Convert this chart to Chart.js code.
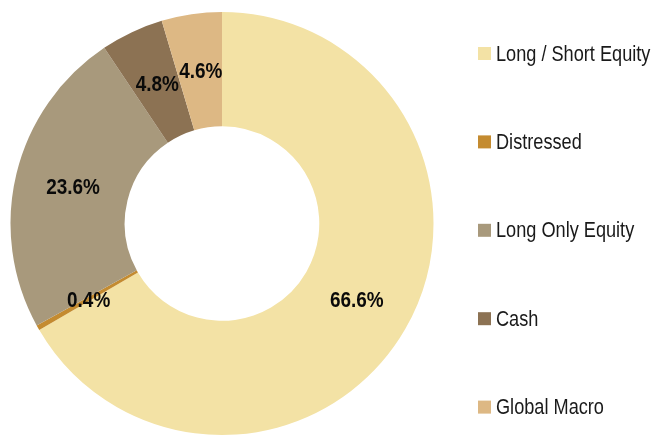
<!DOCTYPE html>
<html>
<head>
<meta charset="utf-8">
<script src="https://cdn.jsdelivr.net/npm/chart.js@4/dist/chart.umd.min.js"></script>
<style>
  html, body { margin: 0; padding: 0; background: #fff; }
  #wrap { width: 654px; height: 437px; }
</style>
</head>
<body>
<div id="wrap"><canvas id="myChart" width="654" height="437"></canvas></div>
<script>
const categories = ["Long / Short Equity", "Distressed", "Long Only Equity", "Cash", "Global Macro"];
const shares = [66.6, 0.4, 23.6, 4.8, 4.6];
const sliceLabels = ["66.6%", "0.4%", "23.6%", "4.8%", "4.6%"];
const colors = ["#F3E2A5", "#C48B30", "#A8997C", "#8C7253", "#DDB884"];

// no narrow font installed, so squeeze Liberation Sans sideways
const fam = "'Liberation Sans', Arial, sans-serif";

function narrowText(ctx, text, x, y, align, squeeze) {
    ctx.save();
    ctx.translate(x, y);
    ctx.scale(squeeze, 1);
    ctx.textAlign = align;
    ctx.fillText(text, 0, 0);
    ctx.restore();
}

// percentage text in the middle of each ring slice
const sliceText = {
    id: "sliceText",
    afterDatasetsDraw(chart) {
        const ctx = chart.ctx;
        const meta = chart.getDatasetMeta(0);
        ctx.save();
        ctx.font = "bold 22px " + fam;
        ctx.fillStyle = "#0a0a0a";
        ctx.textBaseline = "middle";
        meta.data.forEach((arc, i) => {
            const p = arc.tooltipPosition();
            narrowText(ctx, sliceLabels[i], p.x + 1, p.y + 1, "center", 0.86);
        });
        ctx.restore();
    },
};

// legend column on the right, spaced out like the original
const sideLegend = {
    id: "sideLegend",
    afterDraw(chart) {
        const ctx = chart.ctx;
        const x = 478;
        const top = 53.5;
        const step = 88.4;
        ctx.save();
        ctx.font = "22px " + fam;
        ctx.textBaseline = "middle";
        chart.data.labels.forEach((label, i) => {
            const y = top + i * step;
            ctx.fillStyle = chart.data.datasets[0].backgroundColor[i];
            ctx.fillRect(x, y - 6.5, 13, 13);
            ctx.fillStyle = "#1a1a1a";
            narrowText(ctx, label, x + 18, y + 1, "left", 0.825);
        });
        ctx.restore();
    },
};

new Chart(document.getElementById("myChart"), {
    type: "doughnut",
    data: {
        labels: categories,
        datasets: [
            {
                data: shares,
                backgroundColor: colors,
                borderWidth: 0,
            },
        ],
    },
    options: {
        responsive: false,
        animation: false,
        cutout: "46%",
        layout: {
            padding: { left: 10, right: 220, top: 12, bottom: 2 },
        },
        plugins: {
            legend: { display: false },
            tooltip: { enabled: false },
        },
    },
    plugins: [sliceText, sideLegend],
});
</script>
</body>
</html>
